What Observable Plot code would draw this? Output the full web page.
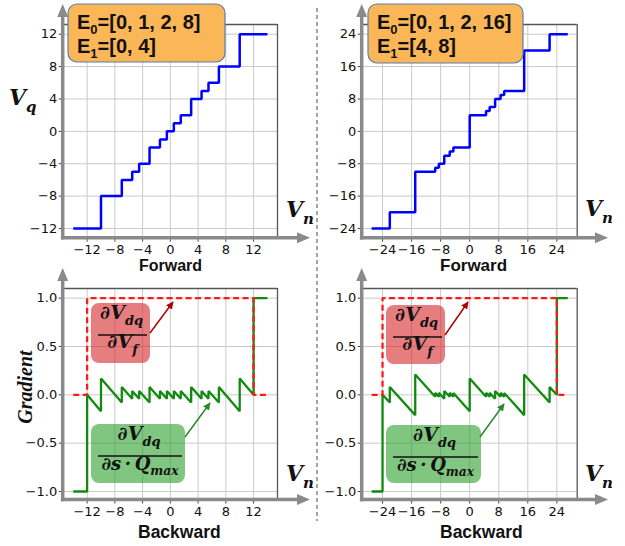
<!DOCTYPE html>
<html><head><meta charset="utf-8">
<script src="https://cdn.jsdelivr.net/npm/d3@7"></script>
<script src="https://cdn.jsdelivr.net/npm/@observablehq/plot@0.6"></script>
<style>
body{margin:0;background:#fff;}
#wrap{position:relative;width:625px;height:546px;overflow:hidden;background:#fff;}
#wrap svg{position:absolute;left:0;top:0;}
</style></head><body><div id="wrap"></div>
<script>
// ---------- data ----------
// Forward (quantizer output Vq vs input Vn), step-after breakpoints
const fwdX1 = [-14,-10,-7,-5.5,-4.5,-3,-1.5,-0.5,0.5,1.5,3,4.5,5.5,7,10,14];
const fwdY1 = [-12,-8,-6,-5,-4,-2,-1,0,1,2,4,5,6,8,12,12];
const fwdX2 = [-27,-22,-15,-9.5,-8.5,-7,-5.5,-4.5,0,4.5,5.5,7,8.5,9.5,15,22,27];
const fwdY2 = [-24,-20,-10,-9,-8,-6,-5,-4,4,5,6,8,9,10,20,24,24];
// Backward: dVdq/dVf (red dashed)
const redX1 = [-14,-12,-12,12,12,14];
const redY1 = [0,0,1,1,0,0];
const redX2 = [-27,-24,-24,24,24,27];
const redY2 = [0,0,1,1,0,0];
// Backward: dVdq/(ds*Qmax) (green)
const grnX1 = [-14,-12,-12,-10,-10,-7,-7,-5.5,-5.5,-4.5,-4.5,-3,-3,-1.5,-1.5,-0.5,-0.5,0.5,0.5,1.5,1.5,3,3,4.5,4.5,5.5,5.5,7,7,10,10,12,12,14];
const grnY1 = [-1,-1,0,-0.17,0.17,-0.08,0.08,-0.04,0.04,-0.04,0.04,-0.08,0.08,-0.04,0.04,-0.04,0.04,-0.04,0.04,-0.04,0.04,-0.08,0.08,-0.04,0.04,-0.04,0.04,-0.08,0.08,-0.17,0.17,0,1,1];
const grnX2 = [-27,-24,-24,-22,-22,-15,-15,-9.5,-9.5,-8.5,-8.5,-7,-7,-5.5,-5.5,-4.5,-4.5,0,0,4.5,4.5,5.5,5.5,7,7,8.5,8.5,9.5,9.5,15,15,22,22,24,24,27];
const grnY2 = [-1,-1,0,-0.08,0.08,-0.21,0.21,-0.02,0.02,-0.02,0.02,-0.04,0.04,-0.02,0.02,-0.02,0.02,-0.17,0.17,-0.02,0.02,-0.02,0.02,-0.04,0.04,-0.02,0.02,-0.02,0.02,-0.21,0.21,-0.08,0.08,0,1,1];
// ticks
const ticks1 = [-12,-8,-4,0,4,8,12];
const ticks2 = [-24,-16,-8,0,8,16,24];
const gradTicks = [-1,-0.5,0,0.5,1];
// legend texts
const legend1 = [["E","0","=[0, 1, 2, 8]"],["E","1","=[0, 4]"]];
const legend2 = [["E","0","=[0, 1, 2, 16]"],["E","1","=[4, 8]"]];
const xLabelTop = "Forward", xLabelBottom = "Backward";

// ---------- helpers ----------
const pts = (xs, ys) => xs.map((x, i) => ({x, y: ys[i]}));
const minus = v => (v < 0 ? "\u2212" + Math.abs(v) : String(v));
const fmtInt = d => minus(d);
const fmtDec = d => (d < 0 ? "\u2212" + Math.abs(d).toFixed(1) : d.toFixed(1));
const W = 625, H = 546;
const wrap = document.getElementById("wrap");

function panel({xd, yd, xt, yt, yfmt, L, R, T, B, lines}) {
  const p = Plot.plot({
    width: W, height: H,
    marginLeft: L, marginRight: W - R, marginTop: T, marginBottom: H - B,
    x: {domain: xd}, y: {domain: yd},
    style: {background: "transparent", overflow: "visible", fontFamily: "DejaVu Sans", fontSize: "13px", color: "#111"},
    marks: [
      Plot.gridX(xt, {stroke: "#c9c9c9", strokeOpacity: 1, strokeWidth: 1}),
      Plot.gridY(yt, {stroke: "#c9c9c9", strokeOpacity: 1, strokeWidth: 1}),
      Plot.ruleY([yd[1]], {stroke: "#555", strokeWidth: 1.3}),
      Plot.ruleX([xd[1]], {stroke: "#555", strokeWidth: 1.3}),
      ...lines,
      Plot.axisX(xt, {tickFormat: fmtInt, tickSize: 4, tickPadding: 3, stroke: "#444", fontSize: 13, label: null}),
      Plot.axisY(yt, {tickFormat: yfmt, tickSize: 4, tickPadding: 2, stroke: "#444", fontSize: 13, label: null})
    ]
  });
  wrap.appendChild(p);
  return p;
}

const blue = d => Plot.line(d, {x: "x", y: "y", curve: "step-after", stroke: "#0000ff", strokeWidth: 2.5, strokeLinejoin: "miter", strokeLinecap: "butt"});
const green = d => Plot.line(d, {x: "x", y: "y", stroke: "#108a10", strokeWidth: 2.3, strokeLinejoin: "miter", strokeLinecap: "butt"});
const red = d => Plot.line(d, {x: "x", y: "y", stroke: "#ff1a1a", strokeWidth: 2.3, strokeDasharray: "6,3.5", strokeLinecap: "butt", strokeLinejoin: "miter"});

panel({xd: [-15.45, 15.45], yd: [-13.2, 13.2], xt: ticks1, yt: ticks1, yfmt: fmtInt, L: 62.7, R: 277, T: 24, B: 237.7, lines: [blue(pts(fwdX1, fwdY1))]});
panel({xd: [-29.6, 29.6], yd: [-26.4, 26.4], xt: ticks2, yt: ticks2, yfmt: fmtInt, L: 361.7, R: 576.7, T: 24, B: 237.7, lines: [blue(pts(fwdX2, fwdY2))]});
panel({xd: [-15.45, 15.45], yd: [-1.088, 1.1], xt: ticks1, yt: gradTicks, yfmt: fmtDec, L: 62.7, R: 277, T: 288, B: 499.5, lines: [green(pts(grnX1, grnY1)), red(pts(redX1, redY1))]});
panel({xd: [-29.6, 29.6], yd: [-1.088, 1.1], xt: ticks2, yt: gradTicks, yfmt: fmtDec, L: 361.7, R: 576.7, T: 288, B: 499.5, lines: [green(pts(grnX2, grnY2)), red(pts(redX2, redY2))]});

// ---------- overlay ----------
const svg = d3.select(wrap).append("svg").attr("width", W).attr("height", H);
const defs = svg.append("defs");
function marker(id, color) {
  defs.append("marker").attr("id", id).attr("viewBox", "0 0 10 10").attr("refX", 9).attr("refY", 5)
    .attr("markerWidth", 5).attr("markerHeight", 5).attr("orient", "auto")
    .append("path").attr("d", "M0,0L10,5L0,10z").attr("fill", color);
}
marker("mr", "#b00000"); marker("mg", "#2a8a2a");

// separator
svg.append("line").attr("x1", 317).attr("x2", 317).attr("y1", 8).attr("y2", 521)
  .attr("stroke", "#888").attr("stroke-width", 1.5).attr("stroke-dasharray", "4,3");

// axis arrows
const AX = "#8a8a8a";
function axes(x0, y0, yTip, xTip) {
  svg.append("line").attr("x1", x0).attr("x2", x0).attr("y1", y0 + 1.8).attr("y2", yTip + 11).attr("stroke", AX).attr("stroke-width", 3.5);
  svg.append("path").attr("d", `M${x0},${yTip}L${x0 + 5.5},${yTip + 13}L${x0 - 5.5},${yTip + 13}Z`).attr("fill", AX);
  svg.append("line").attr("x1", x0 - 1.8).attr("x2", xTip - 11).attr("y1", y0).attr("y2", y0).attr("stroke", AX).attr("stroke-width", 3.5);
  svg.append("path").attr("d", `M${xTip},${y0}L${xTip - 13},${y0 - 5.5}L${xTip - 13},${y0 + 5.5}Z`).attr("fill", AX);
}
axes(62.7, 237.7, 4, 310);
axes(361.7, 237.7, 4, 608);
axes(62.7, 499.5, 268, 310);
axes(361.7, 499.5, 268, 608);

// legend boxes
function legend(x, y, w, h, rows) {
  svg.append("rect").attr("x", x).attr("y", y).attr("width", w).attr("height", h).attr("rx", 9)
    .attr("fill", "#fbb657").attr("stroke", "#5a7fa8").attr("stroke-width", 1.2);
  rows.forEach((r, i) => {
    const t = svg.append("text").attr("x", x + 9).attr("y", y + 25 + i * 24)
      .attr("font-family", "Liberation Sans").attr("font-size", 20).attr("font-weight", "bold").attr("fill", "#111");
    t.append("tspan").text(r[0]);
    t.append("tspan").attr("font-size", 13).attr("dy", 5).text(r[1]);
    t.append("tspan").attr("dy", -5).text(r[2]);
  });
}
legend(68, 4, 157, 58, legend1);
legend(368, 4, 155, 59, legend2);

// math helper
function mtext(x, y, parts, size, anchor = "middle") {
  const t = svg.append("text").attr("x", x).attr("y", y).attr("text-anchor", anchor)
    .attr("font-family", "DejaVu Serif").attr("font-style", "italic").attr("font-weight", "bold")
    .attr("font-size", size).attr("fill", "#111");
  parts.forEach(([s, sub]) => {
    if (sub) t.append("tspan").attr("font-size", size * 0.68).attr("dy", size * 0.3).text(s);
    else t.append("tspan").attr("dy", t.selectAll("tspan").size() ? -size * 0.3 : 0).text(s);
  });
  return t;
}
function fracBox(x, y, w, h, fill, top, bot, botSize) {
  svg.append("rect").attr("x", x).attr("y", y).attr("width", w).attr("height", h).attr("rx", 8).attr("fill", fill).attr("fill-opacity", 0.6);
  const cx = x + w / 2;
  mtext(cx + 1, y + 22, top, 19);
  svg.append("line").attr("x1", x + 7).attr("x2", x + w - 3).attr("y1", y + 32).attr("y2", y + 32).attr("stroke", "#111").attr("stroke-width", 1.6);
  mtext(cx + 2, y + 51, bot, botSize);
}
function arrow(x1, y1, x2, y2, color, id) {
  svg.append("line").attr("x1", x1).attr("y1", y1).attr("x2", x2).attr("y2", y2)
    .attr("stroke", color).attr("stroke-width", 1.5).attr("marker-end", `url(#${id})`);
}
const topPart = [["\u2202V"], ["dq", true]];
const botRed = [["\u2202V"], ["f", true]];
const botGrn = [["\u2202s\u2009\u00b7\u2009Q"], ["max", true]];

fracBox(91, 303, 59, 60, "#d62728", topPart, botRed, 19);
arrow(150, 333, 173, 302, "#b00000", "mr");
fracBox(91, 424, 94, 59, "#2ca02c", topPart, botGrn, 18);
arrow(185, 437, 210, 403, "#2a8a2a", "mg");
fracBox(386, 305, 59, 59, "#d62728", topPart, botRed, 19);
arrow(445, 335, 468, 302, "#b00000", "mr");
fracBox(386, 425, 95, 58, "#2ca02c", topPart, botGrn, 18);
arrow(480, 437, 504, 404, "#2a8a2a", "mg");

// axis names
mtext(9, 112, [["V"], ["q", true]], 22, "start");
mtext(286, 224, [["V"], ["n", true]], 22, "start");
mtext(585, 223, [["V"], ["n", true]], 22, "start");
mtext(286, 488, [["V"], ["n", true]], 22, "start");
mtext(585, 488, [["V"], ["n", true]], 22, "start");
svg.append("text").attr("transform", "translate(32,387) rotate(-90)").attr("text-anchor", "middle")
  .attr("font-family", "Liberation Serif").attr("font-style", "italic").attr("font-weight", "bold")
  .attr("font-size", 20).attr("fill", "#111").text("Gradient");
function sLabel(x, y, s, size) {
  svg.append("text").attr("x", x).attr("y", y).attr("text-anchor", "start")
    .attr("font-family", "Liberation Sans").attr("font-weight", "bold").attr("font-size", size).attr("fill", "#111").text(s);
}
sLabel(139, 271, xLabelTop, 16);
sLabel(440, 271, xLabelTop, 17);
sLabel(138, 538, xLabelBottom, 17.5);
sLabel(440, 538, xLabelBottom, 17.5);
</script></body></html>
